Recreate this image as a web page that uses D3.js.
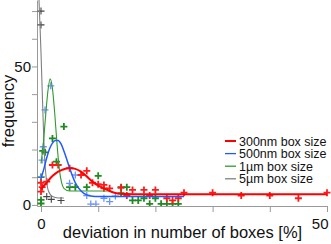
<!DOCTYPE html>
<html>
<head>
<meta charset="utf-8">
<script src="https://cdn.jsdelivr.net/npm/d3@7"></script>
<style>
	body { margin: 0; background: #fff; }
	svg { display: block; font-family: "Liberation Sans", Arial, sans-serif; }
</style>
</head>
<body>
<div id="chart"></div>
<script>
// measured points [deviation %, frequency]
const red300Points = [[0,4.8],[0,8],[0.2,6.4],[1,8.4],[2,14.4],[3,14.4],[5,13.2],[7,10.8],[8,12.3],[9,8],[10,7.5],[11,7.2],[11,6],[12,6],[14,6.2],[15,3.4],[16,5.4],[18,5.4],[19,3.4],[20,5.4],[22,2.4],[23,1.6],[24,2.4],[25,4.4],[30,4.4],[35,3.4],[40,3.4],[45,2.4],[50,4.4]];
const blue500Points = [[0,10.2],[0.2,16.2],[0.4,21],[0.7,34.3],[1.7,43],[5,7.8],[6,10.8],[8,3.4],[8.7,0.3],[9.6,0.3],[11,2.4],[12,1.2],[13,3.2]];
const green1umPoints = [[0,0.5],[0,1.8],[0,10],[0.3,19.5],[0.7,19],[2,24],[2.7,15.6],[4,28.3],[5,6.4],[6,6.4],[8,6.4],[10,10.5],[14,6.4],[15,6.4],[14,4.2],[16,1.6],[17,1.6],[18,2.4],[19,0.4],[20,2.4],[21,0.4],[22,0.4],[23,0.4],[24,0.4]];
const gray5umPoints = [[0,70],[0,65],[1,3],[1.8,2],[3.5,1.6]];

// fitted curves
const red300FitX = [0,1,2,3,4,5,6,7,8,9,10,11,12,13,14,15,17,50];
const red300FitY = [5.7,8.1,10.4,12,12.9,13.3,13,12,10.3,8.4,7,6,5,4.3,4,3.9,3.8,3.8];
const blue500FitX = [0,0.5,1,1.5,2,2.5,3,3.5,4,4.5,5,6,7,8,9,10,25];
const blue500FitY = [9.5,13,17,20.3,22.3,23.3,23.3,22,19.5,16.5,13.3,8,5,3.6,3.1,3,3];
const green1umFitX = [0,0.4,0.8,1.2,1.6,2,2.4,2.8,3.2,3.6,4,5,12];
const green1umFitY = [15,22,32,41,45.5,42,33,22,13,8,6,5,5];
const gray5umFitX = [-0.6,-0.35,-0.2,0,0.2,0.4,0.6,0.9,1.3,2,3,4];
const gray5umFitY = [90,74,66,55,42,29,18,10,5,3,2.5,2.5];

const legendLabels = ["300nm box size", "500nm box size", "1µm box size", "5µm box size"];
const yTicks = [0,10,20,30,40,50,60,70];
const xTicks = [0,10,20,30,40,50];
const tickLabels = [0, 50];

const colors = ["#ff0000", "#1f5bff", "#2f9a2f", "#808080"];
const pointColors = ["#ff1a1a", "#6b93ff", "#1f8a1f", "#444444"];

const svgWidth = 331;
const svgHeight = 244;

const xScale = d3.scaleLinear().domain([-0.7, 50]).range([37, 327]);
const yScale = d3.scaleLinear().domain([-0.4, 74]).range([206, 0]);

const svg = d3.select("#chart")
	.append("svg")
	.attr("width", svgWidth)
	.attr("height", svgHeight);

svg.append("clipPath").attr("id", "plotClip")
	.append("rect")
	.attr("x", 37).attr("y", 0)
	.attr("width", svgWidth - 37).attr("height", 206);

// axes
const xAxis = d3.axisBottom(xScale).tickValues(xTicks).tickSize(6).tickSizeOuter(0)
	.tickFormat(d => tickLabels.includes(d) ? d : "");
const yAxis = d3.axisLeft(yScale).tickValues(yTicks).tickSize(5).tickSizeOuter(0)
	.tickFormat(d => tickLabels.includes(d) ? d : "");

const gx = svg.append("g").attr("transform", "translate(0,206)").call(xAxis);
const gy = svg.append("g").attr("transform", "translate(37,0)").call(yAxis);

[gx, gy].forEach(g => {
	g.select(".domain").attr("stroke", "#9a9a9a");
	g.selectAll(".tick line").attr("stroke", "#9a9a9a");
	g.selectAll(".tick text").attr("fill", "#111").attr("font-size", 15).attr("font-family", "Liberation Sans, Arial, sans-serif");
});
gx.selectAll(".tick text").attr("dy", "0.9em");
// the 50 label sits left of its tick so it stays inside
gx.selectAll(".tick text").filter(d => d === 50).attr("text-anchor", "end").attr("x", 1);
gy.selectAll(".tick text").attr("x", -6);

// curves
const plot = svg.append("g").attr("clip-path", "url(#plotClip)");
const fits = [
	[red300FitX, red300FitY, 2],
	[blue500FitX, blue500FitY, 1.5],
	[green1umFitX, green1umFitY, 1.1],
	[gray5umFitX, gray5umFitY, 1.1]
];
const line = d3.line()
	.x(d => xScale(d[0]))
	.y(d => yScale(d[1]))
	.curve(d3.curveMonotoneX);

// markers
const allPoints = [red300Points, blue500Points, green1umPoints, gray5umPoints];
const plusPath = "M-3.5,0H3.5M0,-3.5V3.5";
const plusWidth = [1.8, 1.3, 1.8, 1.1];

[3, 2, 1, 0].forEach(i => {
	plot.append("g")
		.selectAll("path")
		.data(allPoints[i])
		.enter()
		.append("path")
		.attr("d", plusPath)
		.attr("transform", d => `translate(${xScale(d[0])},${yScale(d[1])})`)
		.attr("stroke", pointColors[i])
		.attr("stroke-width", plusWidth[i])
		.attr("fill", "none");
});

[3, 2, 1, 0].forEach(i => {
	const [fx, fy, w] = fits[i];
	plot.append("path")
		.datum(fx.map((x, k) => [x, fy[k]]))
		.attr("d", line)
		.attr("fill", "none")
		.attr("stroke", colors[i])
		.attr("stroke-width", w);
});

// legend
const legend = svg.append("g");
legendLabels.forEach((label, i) => {
	const y = 141 + i * 12.6;
	legend.append("line")
		.attr("x1", 225).attr("x2", 236)
		.attr("y1", y).attr("y2", y)
		.attr("stroke", colors[i])
		.attr("stroke-width", i === 0 ? 2 : 1.3);
	legend.append("text")
		.attr("x", 239).attr("y", y)
		.attr("dy", "0.36em")
		.attr("font-size", 12.5)
		.attr("fill", "#111")
		.text(label);
});

// axis titles
svg.append("text")
	.attr("x", 182.5).attr("y", 238)
	.attr("text-anchor", "middle")
	.attr("font-size", 16.5)
	.attr("fill", "#111")
	.text("deviation in number of boxes [%]");

svg.append("text")
	.attr("transform", "translate(14,111) rotate(-90)")
	.attr("text-anchor", "middle")
	.attr("font-size", 16.5)
	.attr("fill", "#111")
	.text("frequency");
</script>
</body>
</html>
